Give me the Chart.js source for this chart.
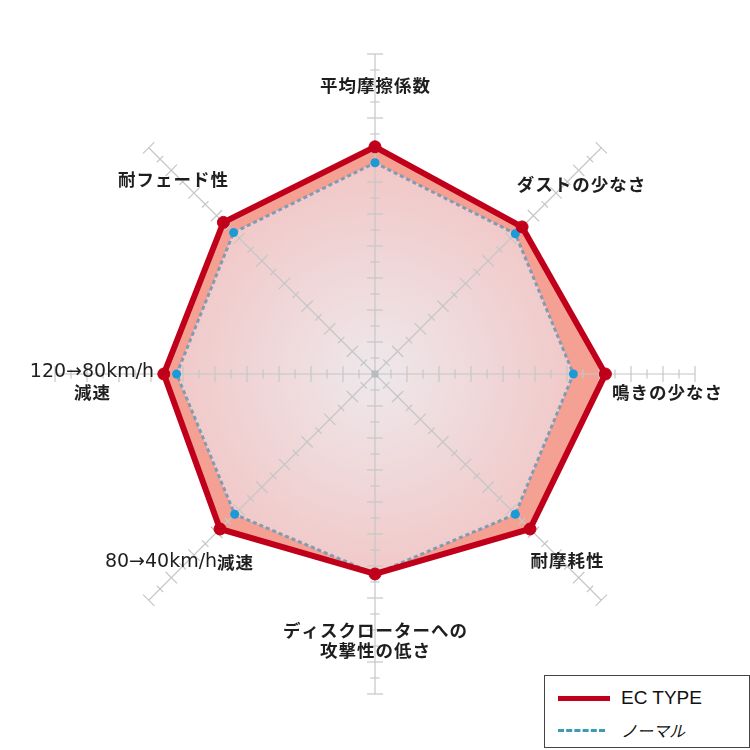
<!DOCTYPE html>
<html>
<head>
<meta charset="utf-8">
<script src="https://cdn.jsdelivr.net/npm/chart.js@4/dist/chart.umd.min.js"></script>
<style>
  html, body { margin: 0; padding: 0; background: #fff; }
  #wrap { position: relative; width: 750px; height: 750px; }
  #legend { position: absolute; left: 544px; top: 675px; width: 206px; height: 73px;
    border: 1.5px solid #444; background: #fff; box-sizing: border-box; color: #111; }
  .row { position: absolute; left: 13px; height: 22px; display: flex; align-items: center; }
  .sample { width: 52px; margin-right: 11px; }
  .lat { font-family: "Liberation Sans", Arial, sans-serif; font-size: 19px; }
  .cjk { font-family: "Noto Sans CJK JP", sans-serif; font-size: 16px; font-style: italic; }
</style>
</head>
<body>
<div id="wrap">
  <canvas id="c" width="750" height="750"></canvas>
  <div id="legend">
    <div class="row" style="top:11px"><div class="sample" style="border-top:5px solid #c0001a"></div><span class="lat">EC TYPE</span></div>
    <div class="row" style="top:43px"><div class="sample" style="border-top:3px dashed #3a9bb2;width:47px;margin-right:16px"></div><span class="cjk">ノーマル</span></div>
  </div>
</div>
<script>
const categories = ["平均摩擦係数", "ダストの少なさ", "鳴きの少なさ", "耐摩耗性",
  ["ディスクローターへの", "攻撃性の低さ"], "80→40km/h減速", ["120→80km/h", "減速"], "耐フェード性"];
const ecType = [7.1, 6.5, 7.2, 6.85, 6.25, 6.85, 6.6, 6.7];
const normal = [6.6, 6.2, 6.2, 6.2, 6.25, 6.2, 6.2, 6.25];
const scaleMax = 10;
const tickStep = 0.5;

// label anchor positions (layout only)
const labelPos = [
  [375, 85], [581, 184], [667, 392], [567, 560],
  [375, 630], [179, 562], [92, 372], [173, 179]
];

const latinFont = '19px "DejaVu Sans", sans-serif';
const cjkFont = 'bold 17.5px "Noto Sans CJK JP", sans-serif';
const cjkGap = 1;

function splitRuns(t) {
  const runs = [];
  for (const ch of t) {
    const isLat = /[\x00-\x7F\u2192]/.test(ch);
    if (runs.length && runs[runs.length - 1].lat === isLat) runs[runs.length - 1].s += ch;
    else runs.push({ lat: isLat, s: ch });
  }
  return runs;
}

function drawMixed(ctx, t, cx, cy) {
  const runs = splitRuns(t);
  let total = 0;
  runs.forEach(r => {
    if (r.lat) {
      ctx.font = latinFont;
      r.w = ctx.measureText(r.s).width;
    } else {
      ctx.font = cjkFont;
      r.w = 0;
      for (const ch of r.s) r.w += ctx.measureText(ch).width + cjkGap;
      r.w -= cjkGap;
    }
    total += r.w;
  });
  let x = cx - total / 2;
  runs.forEach(r => {
    if (r.lat) {
      ctx.font = latinFont;
      ctx.fillText(r.s, x, cy);
      x += r.w;
    } else {
      ctx.font = cjkFont;
      let xx = x;
      for (const ch of r.s) {
        ctx.fillText(ch, xx, cy);
        xx += ctx.measureText(ch).width + cjkGap;
      }
      x += r.w;
    }
  });
}

const gridPlugin = {
  id: 'spokes',
  beforeDatasetsDraw(chart) {
    const s = chart.scales.r, ctx = chart.ctx;
    const n = categories.length;
    ctx.save();
    ctx.strokeStyle = '#c6c6c6';
    ctx.lineWidth = 1.2;
    for (let i = 0; i < n; i++) {
      const end = s.getPointPositionForValue(i, scaleMax);
      ctx.beginPath();
      ctx.moveTo(s.xCenter, s.yCenter);
      ctx.lineTo(end.x, end.y);
      ctx.stroke();
      const ang = Math.atan2(end.y - s.yCenter, end.x - s.xCenter);
      const px = -Math.sin(ang), py = Math.cos(ang);
      let k = 1;
      for (let v = tickStep; v <= scaleMax + 1e-6; v += tickStep, k++) {
        const p = s.getPointPositionForValue(i, v);
        const len = (k % 2 === 0) ? 8 : 4.5;
        ctx.beginPath();
        ctx.moveTo(p.x - px * len, p.y - py * len);
        ctx.lineTo(p.x + px * len, p.y + py * len);
        ctx.stroke();
      }
    }
    ctx.fillStyle = '#b8bcbc';
    ctx.fillRect(s.xCenter - 3.5, s.yCenter - 3.5, 7, 7);
    ctx.restore();
  },
  afterDraw(chart) {
    const ctx = chart.ctx;
    ctx.save();
    ctx.fillStyle = '#1e1e1e';
    ctx.textAlign = 'left';
    ctx.textBaseline = 'middle';
    categories.forEach((lab, i) => {
      const [x, y] = labelPos[i];
      const lines = Array.isArray(lab) ? lab : [lab];
      lines.forEach((t, j) => drawMixed(ctx, t, x, y + j * 20));
    });
    ctx.restore();
  }
};

function normalFill(context) {
  const chart = context.chart;
  const s = chart.scales && chart.scales.r;
  if (!s || !isFinite(s.xCenter) || !s.drawingArea) return '#f0d8d8';
  const g = chart.ctx.createRadialGradient(s.xCenter, s.yCenter, 0, s.xCenter, s.yCenter, s.drawingArea * 0.64);
  g.addColorStop(0, '#eee8ec');
  g.addColorStop(1, '#f1c8c7');
  return g;
}

new Chart(document.getElementById('c'), {
  type: 'radar',
  data: {
    labels: categories,
    datasets: [
      {
        label: 'EC TYPE',
        data: ecType,
        borderColor: '#c0001a',
        backgroundColor: '#f4a194',
        borderWidth: 6,
        fill: '+1',
        pointRadius: 6,
        pointBackgroundColor: '#c0001a',
        pointBorderColor: '#c0001a',
        pointBorderWidth: 1,
        borderJoinStyle: 'miter'
      },
      {
        label: 'ノーマル',
        data: normal,
        borderColor: '#7f9cb6',
        backgroundColor: normalFill,
        borderWidth: 3,
        borderDash: [4, 3],
        fill: 'origin',
        pointRadius: 4.5,
        pointBackgroundColor: '#1b9ad8',
        pointBorderColor: '#1b9ad8',
        pointBorderWidth: 0
      }
    ]
  },
  options: {
    responsive: false,
    animation: false,
    devicePixelRatio: 1,
    layout: { padding: { left: 55, right: 55, top: 54, bottom: 56 } },
    plugins: {
      legend: { display: false },
      tooltip: { enabled: false },
      filler: { drawTime: 'beforeDatasetsDraw' }
    },
    scales: {
      r: {
        min: 0,
        max: scaleMax,
        ticks: { display: false, stepSize: tickStep },
        grid: { display: false },
        angleLines: { display: false },
        pointLabels: { display: false }
      }
    }
  },
  plugins: [gridPlugin]
});
</script>
</body>
</html>
